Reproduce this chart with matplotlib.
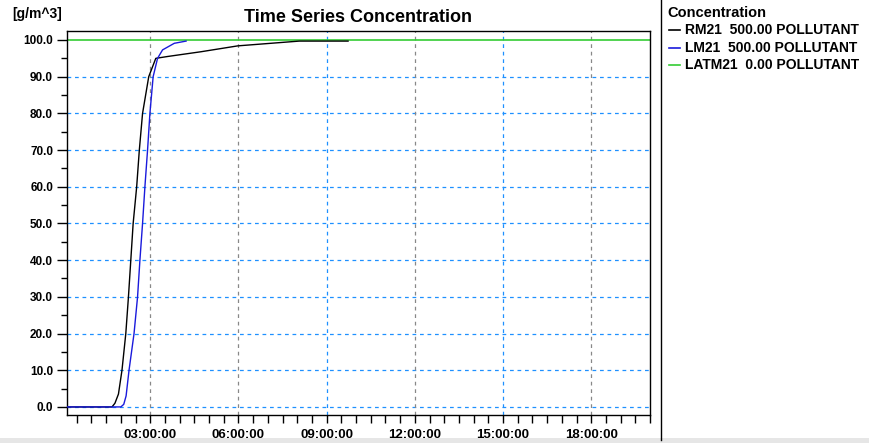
import numpy as np
import matplotlib
matplotlib.use('Agg')
import matplotlib.pyplot as plt
from matplotlib.ticker import MultipleLocator, FuncFormatter
from matplotlib.lines import Line2D
from matplotlib.patches import Rectangle

plt.rcParams['font.family'] = ['Liberation Sans', 'DejaVu Sans']

# time in hours, concentration in g/m^3
rm21_t = [0.17, 1.70, 1.80, 1.92, 2.04, 2.17, 2.26, 2.34, 2.42, 2.54, 2.63, 2.74, 2.95, 3.19, 3.59, 4.73, 5.98, 8.07, 9.73]
rm21_c = [0.0, 0.0, 1.0, 3.5, 10.0, 20.0, 30.0, 40.0, 50.0, 60.0, 70.0, 80.0, 90.0, 95.0, 95.5, 96.8, 98.4, 99.7, 99.7]
lm21_t = [0.17, 2.00, 2.10, 2.18, 2.28, 2.45, 2.57, 2.65, 2.74, 2.82, 2.91, 2.99, 3.10, 3.25, 3.42, 3.82, 4.22]
lm21_c = [0.0, 0.0, 0.7, 3.0, 10.0, 20.0, 30.0, 40.0, 50.0, 60.0, 70.0, 80.0, 90.0, 95.0, 97.3, 99.1, 99.7]
latm21_c = 100.0

series_labels = ['RM21  500.00 POLLUTANT', 'LM21  500.00 POLLUTANT', 'LATM21  0.00 POLLUTANT']
series_colors = ['#000000', '#1a1adc', '#33cc33']

y_ticks = np.arange(0, 101, 10)
x_major = [3, 6, 9, 12, 15, 18]
x_grid_colors = ['#888888', '#888888', '#1e90ff', '#888888', '#1e90ff', '#888888']

fig = plt.figure(figsize=(8.7, 4.43), dpi=100)
ax = fig.add_axes([67 / 870, 28 / 443, 583 / 870, 384 / 443])

ax.set_xlim(0.17, 20.0)
ax.set_ylim(-2.2, 102.45)

# grid lines
for v in y_ticks[:-1]:
    ax.axhline(v, color='#1e90ff', lw=0.9, ls=(0, (3, 3)), zorder=1)
for h, c in zip(x_major, x_grid_colors):
    ax.axvline(h, color=c, lw=0.9, ls=(0, (3, 3)), zorder=1)

ax.axhline(latm21_c, color=series_colors[2], lw=1.2, zorder=2)
ax.plot(rm21_t, rm21_c, color=series_colors[0], lw=1.0, zorder=3)
ax.plot(lm21_t, lm21_c, color=series_colors[1], lw=1.0, zorder=3)

ax.set_yticks(y_ticks)
ax.yaxis.set_major_formatter(FuncFormatter(lambda v, p: '%.1f' % v))
ax.yaxis.set_minor_locator(MultipleLocator(5))
ax.set_xticks(x_major)
ax.xaxis.set_major_formatter(FuncFormatter(lambda v, p: '%02d:00:00' % int(round(v))))
ax.xaxis.set_minor_locator(MultipleLocator(0.5))

ax.tick_params(axis='both', which='both', direction='out', width=1, color='black')
ax.tick_params(axis='y', which='major', length=7, pad=3, labelsize=8.5)
ax.tick_params(axis='y', which='minor', length=4)
ax.tick_params(axis='x', which='major', length=6, pad=4, labelsize=9.5)
ax.tick_params(axis='x', which='minor', length=6)
for lab in ax.get_xticklabels() + ax.get_yticklabels():
    lab.set_fontweight('bold')
for s in ax.spines.values():
    s.set_linewidth(1.0)

fig.text(358 / 870, 1 - 18 / 443, 'Time Series Concentration', ha='center', va='center',
         fontsize=13, fontweight='bold')
fig.text(12 / 870, 1 - 14 / 443, '[g/m^3]', ha='left', va='center', fontsize=10, fontweight='bold')

# legend panel
fig.add_artist(Line2D([661 / 870, 661 / 870], [3 / 443, 1], color='black', lw=1.0,
                      transform=fig.transFigure))
fig.add_artist(Rectangle((0, 0), 1, 5 / 443, transform=fig.transFigure,
                         color='#e6e6e6', lw=0, zorder=-1))
fig.text(667 / 870, 1 - 13 / 443, 'Concentration', ha='left', va='center',
         fontsize=10.5, fontweight='bold')
for i, (lab, col) in enumerate(zip(series_labels, series_colors)):
    y = 1 - (30 + 17.5 * i) / 443
    fig.add_artist(Line2D([669 / 870, 680 / 870], [y, y], color=col, lw=1.2,
                          transform=fig.transFigure))
    fig.text(685 / 870, y, lab, ha='left', va='center', fontsize=10, fontweight='bold')

fig.savefig('out.png', dpi=100)
